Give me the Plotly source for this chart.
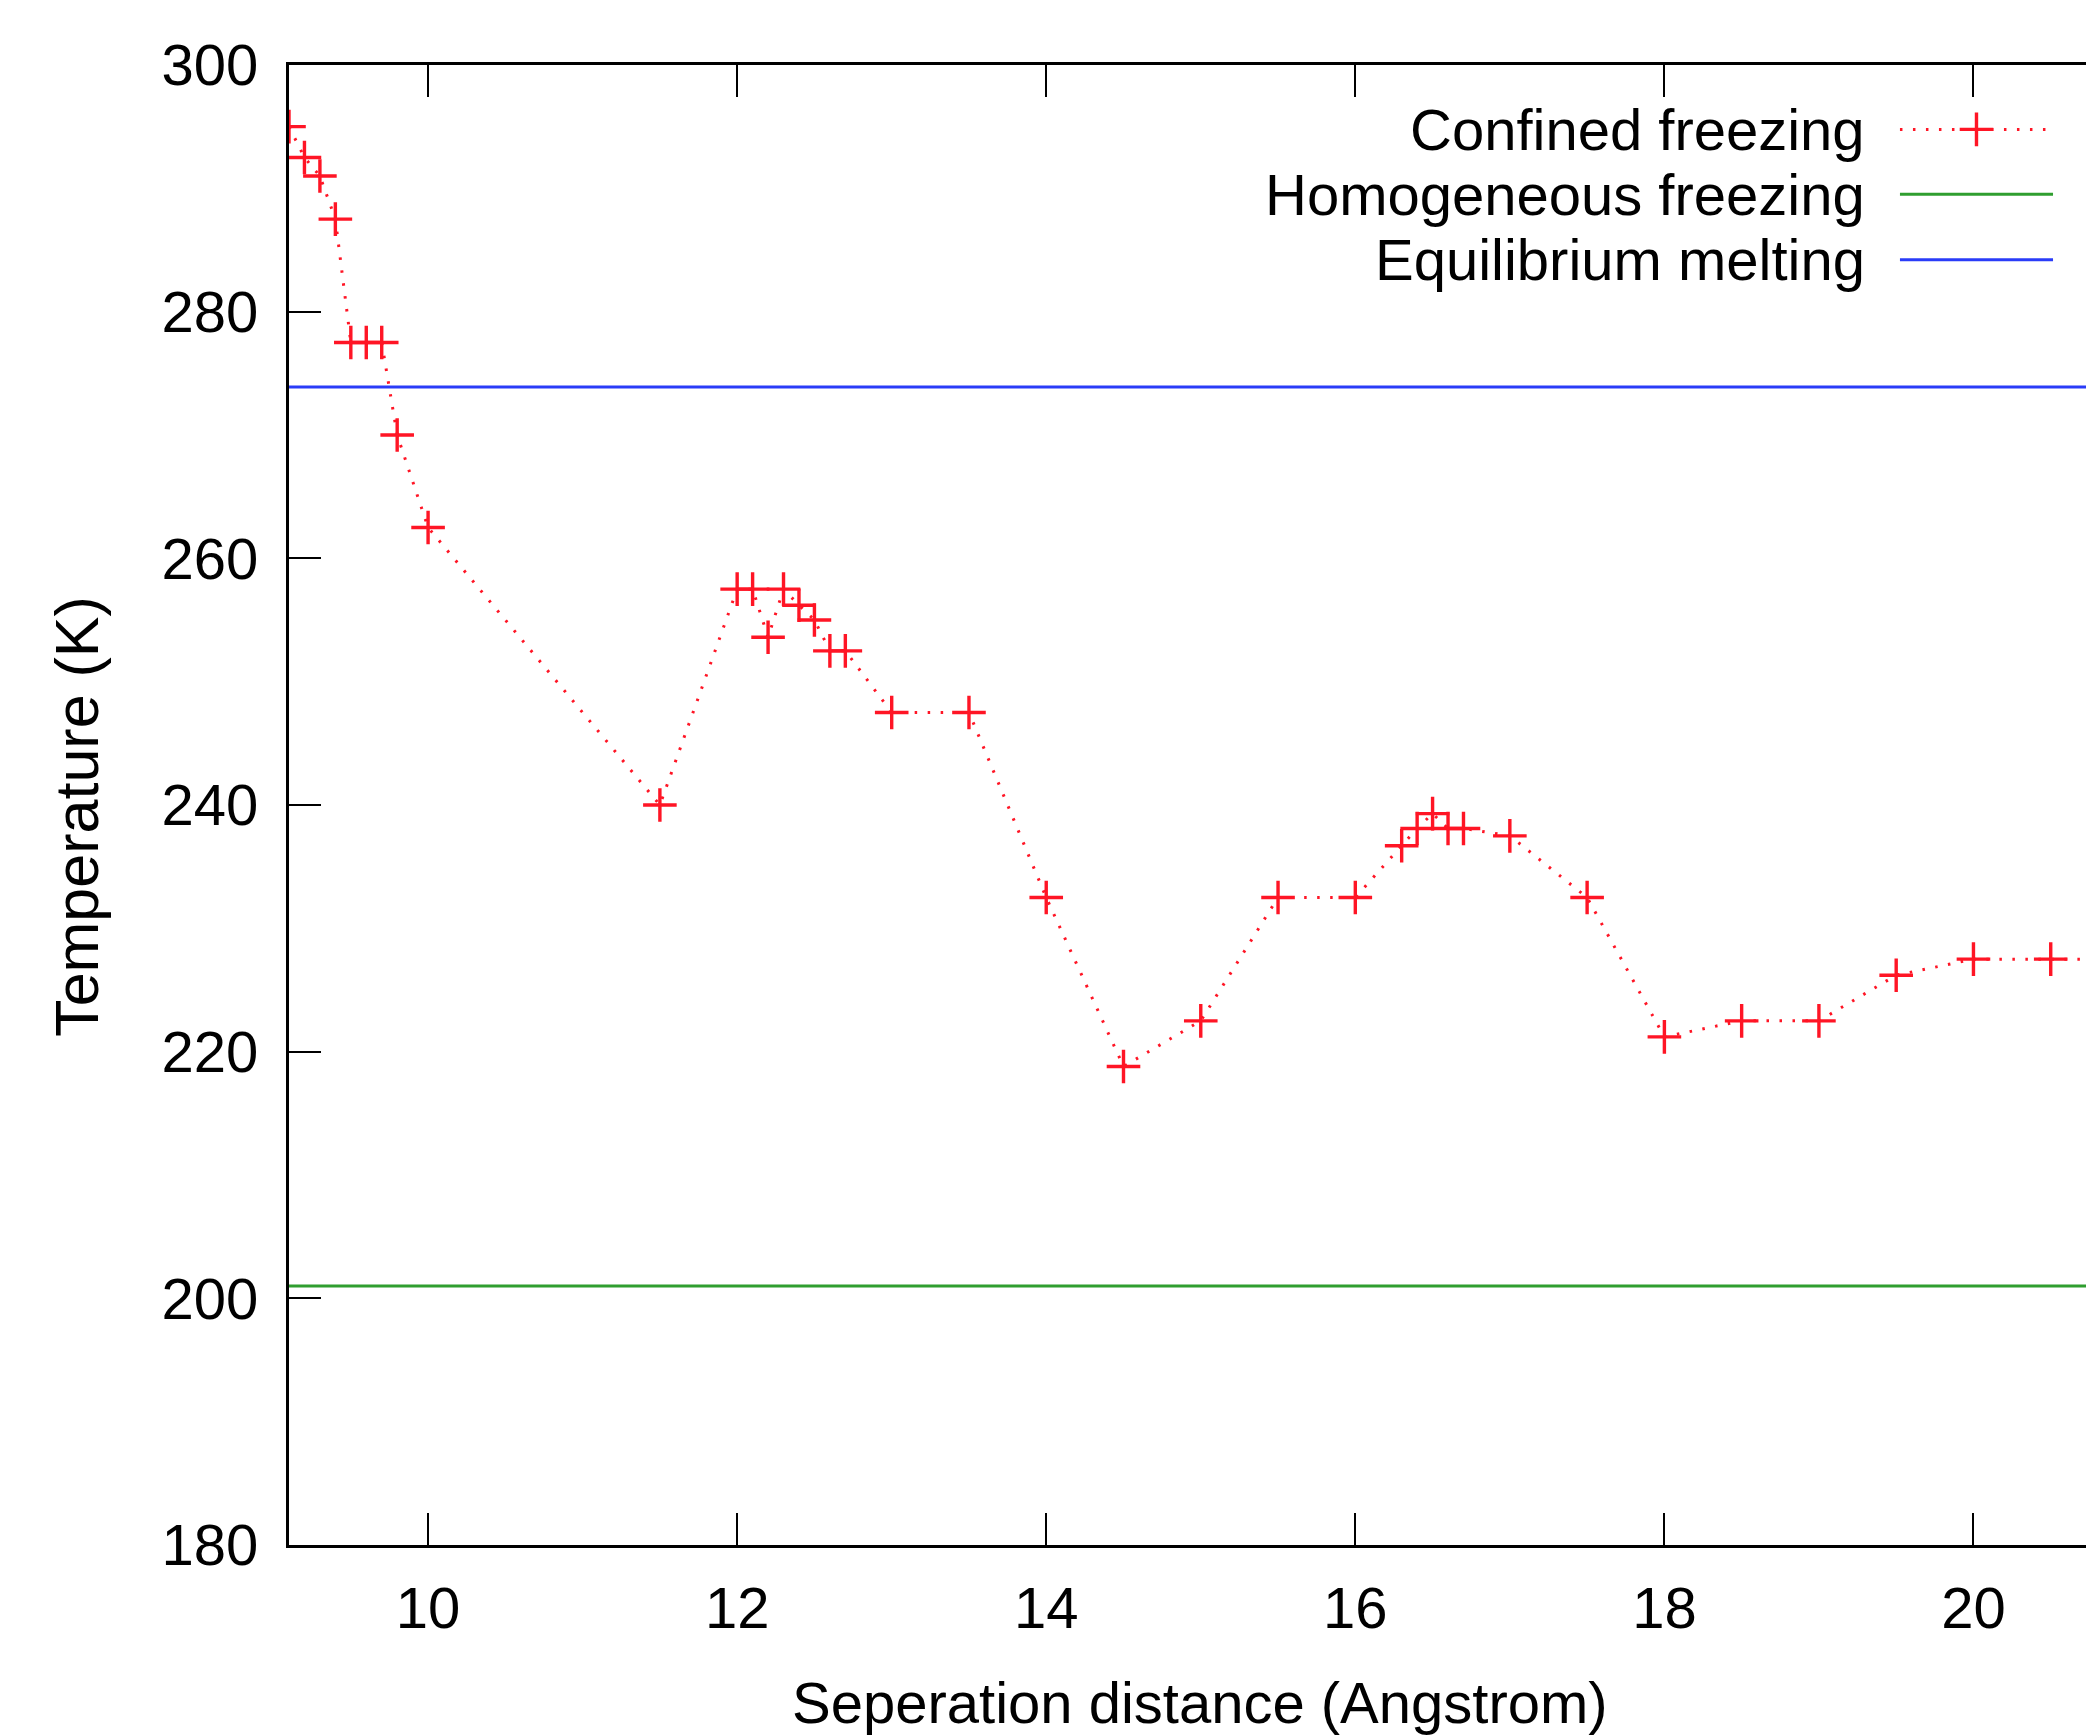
import plotly.graph_objects as go

# ---- data ----
separation = [9.1, 9.2, 9.3, 9.4, 9.5, 9.6, 9.7, 9.8, 10.0, 11.5,
              12.0, 12.1, 12.2, 12.3, 12.4, 12.5, 12.6, 12.7, 13.0, 13.5,
              14.0, 14.5, 15.0, 15.5, 16.0, 16.3, 16.4, 16.5, 16.6, 16.7,
              17.0, 17.5, 18.0, 18.5, 19.0, 19.5, 20.0, 20.5, 21.0]
confined_T = [295, 292.5, 291, 287.5, 277.5, 277.5, 277.5, 270, 262.5, 240,
              257.5, 257.5, 253.6, 257.5, 256.2, 255, 252.5, 252.5, 247.5, 247.5,
              232.5, 218.8, 222.5, 232.5, 232.5, 236.7, 238.1, 239.3, 238.1, 238.1,
              237.5, 232.5, 221.2, 222.5, 222.5, 226.2, 227.5, 227.5, 227.5]
homogeneous_T = 201.0
melting_T = 273.9
series_names = ["Confined freezing", "Homogeneous freezing", "Equilibrium melting"]
x_ticks = [10, 12, 14, 16, 18, 20]
y_ticks = [180, 200, 220, 240, 260, 280, 300]
x_range = [9.1, 20.78]
y_range = [180, 300]

RED = "#ff1525"
GREEN = "#2f9e2f"
BLUE = "#2a3cf8"
FONT = "Liberation Sans, Arial, Helvetica, sans-serif"
FS = 58

fig = go.Figure()

# horizontal reference lines
fig.add_trace(go.Scatter(x=x_range, y=[homogeneous_T, homogeneous_T], mode="lines",
                         line=dict(color=GREEN, width=3), showlegend=False))
fig.add_trace(go.Scatter(x=x_range, y=[melting_T, melting_T], mode="lines",
                         line=dict(color=BLUE, width=3), showlegend=False))

# confined freezing data
fig.add_trace(go.Scatter(x=separation, y=confined_T, mode="lines+markers",
                         line=dict(color=RED, width=3, dash="2.5px,10.5px"),
                         marker=dict(symbol="cross-thin", size=24,
                                     line=dict(color=RED, width=3.4)),
                         showlegend=False))

# ---- custom legend (text left, sample right) on an overlay 0..1 axis ----
leg_rows = [0.9565, 0.9126, 0.8684]
leg_x0, leg_x1, leg_text_x = 0.8925, 0.9773, 0.8742
fig.add_trace(go.Scatter(x=[leg_x0, leg_x1], y=[leg_rows[0]] * 2, mode="lines",
                         line=dict(color=RED, width=3, dash="2.5px,10.5px"),
                         xaxis="x2", yaxis="y2", showlegend=False, hoverinfo="skip"))
fig.add_trace(go.Scatter(x=[(leg_x0 + leg_x1) / 2], y=[leg_rows[0]], mode="markers",
                         marker=dict(symbol="cross-thin", size=24,
                                     line=dict(color=RED, width=3.4)),
                         xaxis="x2", yaxis="y2", showlegend=False, hoverinfo="skip"))
fig.add_trace(go.Scatter(x=[leg_x0, leg_x1], y=[leg_rows[1]] * 2, mode="lines",
                         line=dict(color=GREEN, width=3),
                         xaxis="x2", yaxis="y2", showlegend=False, hoverinfo="skip"))
fig.add_trace(go.Scatter(x=[leg_x0, leg_x1], y=[leg_rows[2]] * 2, mode="lines",
                         line=dict(color=BLUE, width=3),
                         xaxis="x2", yaxis="y2", showlegend=False, hoverinfo="skip"))

annotations = []
for name, yy in zip(series_names, leg_rows):
    annotations.append(dict(text=name, x=leg_text_x, y=yy, xref="paper", yref="paper",
                            xanchor="right", yanchor="middle", showarrow=False,
                            font=dict(family=FONT, size=FS, color="black")))
annotations.append(dict(text="Seperation distance (Angstrom)", x=0.5047, y=-0.083,
                        xref="paper", yref="paper", xanchor="center", yanchor="top",
                        showarrow=False, font=dict(family=FONT, size=FS, color="black")))
annotations.append(dict(text="Temperature (K)", x=-0.1175, y=0.4926, textangle=-90,
                        xref="paper", yref="paper", xanchor="center", yanchor="middle",
                        showarrow=False, font=dict(family=FONT, size=61, color="black")))

fig.update_layout(
    width=2086, height=1727,
    margin=dict(l=281, r=0, t=57, b=190, pad=0),
    paper_bgcolor="white", plot_bgcolor="white",
    font=dict(family=FONT, size=FS, color="black"),
    showlegend=False,
    annotations=annotations,
    xaxis=dict(range=x_range, tickvals=x_ticks, ticktext=[str(v) for v in x_ticks],
               ticks="inside", ticklen=32, tickwidth=2, tickcolor="black",
               showline=True, linecolor="black", linewidth=3, mirror="ticks",
               showgrid=False, zeroline=False, ticklabelstandoff=10,
               tickfont=dict(family=FONT, size=FS, color="black")),
    yaxis=dict(range=y_range, tickvals=y_ticks, ticktext=[str(v) for v in y_ticks],
               ticks="inside", ticklen=32, tickwidth=2, tickcolor="black",
               showline=True, linecolor="black", linewidth=3, mirror=False,
               showgrid=False, zeroline=False, ticklabelstandoff=16,
               tickfont=dict(family=FONT, size=FS, color="black")),
    xaxis2=dict(overlaying="x", range=[0, 1], visible=False, anchor="y2"),
    yaxis2=dict(overlaying="y", range=[0, 1], visible=False, anchor="x2"),
)

fig.write_html("out.html")
